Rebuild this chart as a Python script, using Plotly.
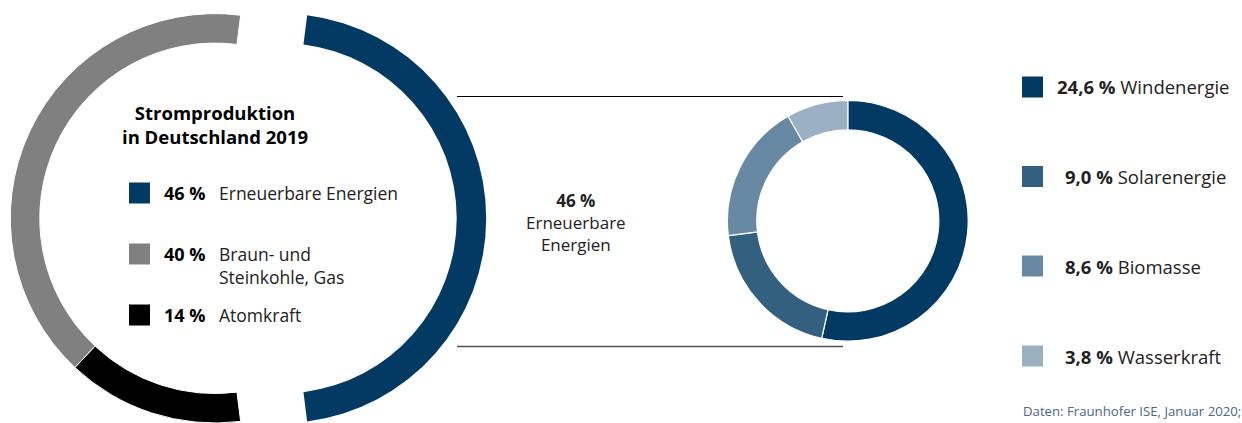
import plotly.graph_objects as go

# ---------------- data ----------------
main_labels = ["Erneuerbare Energien", "Atomkraft", "Braun- und Steinkohle, Gas"]
main_values = [46, 14, 40]
main_colors = ["#033a63", "#000000", "#808080"]

legend_order = [0, 2, 1]  # order shown in the left legend
legend_text = {0: ["Erneuerbare Energien"], 2: ["Braun- und", "Steinkohle, Gas"], 1: ["Atomkraft"]}

renew_labels = ["Windenergie", "Solarenergie", "Biomasse", "Wasserkraft"]
renew_values = [24.6, 9.0, 8.6, 3.8]
renew_colors = ["#033a63", "#33607f", "#6789a3", "#9bb0c2"]

title_lines = ["Stromproduktion", "in Deutschland 2019"]
source_text = "Daten: Fraunhofer ISE, Januar 2020;"

W, H = 1242, 423
FONT = "Open Sans"


def px(x):
    return x / W


def py(y):
    return 1 - y / H


def de(v, d=0):
    s = f"{v:.{d}f}".replace(".", ",")
    return s + " %"


TRANSP = "rgba(0,0,0,0)"
total = sum(main_values)
rot = 90 - 0.5 * main_values[0] / total * 360

fig = go.Figure()

# left part (fossil + nuclear)
R_big_box = 2 * 204.7
cy_big = 218.3
cxL, cxR = 215.0, 281.5
HOLE_BIG = 0.856
ydom = [0.0, py(cy_big - R_big_box / 2)]
fig.add_trace(go.Pie(
    values=main_values, labels=main_labels, sort=False, direction="clockwise",
    rotation=rot, hole=HOLE_BIG, textinfo="none", hoverinfo="skip", showlegend=False,
    marker=dict(colors=[TRANSP, main_colors[1], main_colors[2]],
                line=dict(color=[TRANSP, "white", "white"], width=[0, 1, 1])),
    domain=dict(x=[px(cxL - 212), px(cxL + 212)], y=ydom),
))
# right part (renewables, pulled out)
fig.add_trace(go.Pie(
    values=main_values, labels=main_labels, sort=False, direction="clockwise",
    rotation=rot, hole=HOLE_BIG, textinfo="none", hoverinfo="skip", showlegend=False,
    marker=dict(colors=[main_colors[0], TRANSP, TRANSP],
                line=dict(color=[TRANSP, TRANSP, TRANSP], width=[0, 0, 0])),
    domain=dict(x=[px(cxR - 212), px(cxR + 212)], y=ydom),
))

# small donut
cxS, cyS, rS = 847.8, 220.8, 120.4
fig.add_trace(go.Pie(
    values=renew_values, labels=renew_labels, sort=False, direction="clockwise",
    rotation=0, hole=0.756, textinfo="none", hoverinfo="skip", showlegend=False,
    marker=dict(colors=renew_colors, line=dict(color="white", width=1.2)),
    domain=dict(x=[px(cxS - 130), px(cxS + 130)], y=[py(cyS + rS), py(cyS - rS)]),
))

shapes = []
annotations = []

# connector lines
shapes.append(dict(type="line", xref="paper", yref="paper", x0=px(457), x1=px(843),
                   y0=py(96.5), y1=py(96.5), line=dict(color="#000000", width=1)))
shapes.append(dict(type="line", xref="paper", yref="paper", x0=px(457), x1=px(843),
                   y0=py(346.5), y1=py(346.5), line=dict(color="#555555", width=1.5)))

# title
annotations.append(dict(text="<br>".join(f"<b>{t}</b>" for t in title_lines), x=px(215), y=py(125),
                        xref="paper", yref="paper", xanchor="center", yanchor="middle", showarrow=False,
                        align="center", font=dict(family=FONT, size=18.5, color="#000000")))

# left legend
row_y = [193, 254, 315]
for r, idx in enumerate(legend_order):
    yc = row_y[r]
    shapes.append(dict(type="rect", xref="paper", yref="paper", x0=px(129), x1=px(150),
                       y0=py(yc - 10.5), y1=py(yc + 10.5), fillcolor=main_colors[idx], line=dict(width=0)))
    annotations.append(dict(text=f"<b>{de(main_values[idx])}</b>", x=px(161.5), y=py(yc), xref="paper", yref="paper",
                            xanchor="left", yanchor="middle", showarrow=False,
                            font=dict(family=FONT, size=18, color="#000000")))
    lines = legend_text[idx]
    annotations.append(dict(text="<br>".join(lines), x=px(217), y=py(yc + 11.5 * (len(lines) - 1)),
                            xref="paper", yref="paper", xanchor="left", yanchor="middle", showarrow=False,
                            align="left", font=dict(family=FONT, size=17.5, color="#222222")))

# middle label
annotations.append(dict(text=f"<b>{de(main_values[0])}</b><br>Erneuerbare<br>Energien", x=px(576), y=py(222),
                        xref="paper", yref="paper", xanchor="center", yanchor="middle", showarrow=False,
                        align="center", font=dict(family=FONT, size=17, color="#222222")))

# right legend
rrow_y = [87, 176.5, 266, 356]
for i, (lab, v) in enumerate(zip(renew_labels, renew_values)):
    yc = rrow_y[i]
    shapes.append(dict(type="rect", xref="paper", yref="paper", x0=px(1022), x1=px(1043),
                       y0=py(yc - 10.5), y1=py(yc + 10.5), fillcolor=renew_colors[i], line=dict(width=0)))
    x0 = 1055 if i == 0 else 1063
    annotations.append(dict(text=f"<b>{de(v, 1)}</b> {lab}", x=px(x0), y=py(yc), xref="paper", yref="paper",
                            xanchor="left", yanchor="middle", showarrow=False,
                            font=dict(family=FONT, size=18.5, color="#222222")))

annotations.append(dict(text=source_text, x=px(1020.5), y=py(411), xref="paper", yref="paper",
                        xanchor="left", yanchor="middle", showarrow=False,
                        font=dict(family=FONT, size=13.2, color="#4a6888")))

fig.update_layout(width=W, height=H, margin=dict(l=0, r=0, t=0, b=0),
                  paper_bgcolor="white", plot_bgcolor="white",
                  shapes=shapes, annotations=annotations)

fig.write_html("out.html")
